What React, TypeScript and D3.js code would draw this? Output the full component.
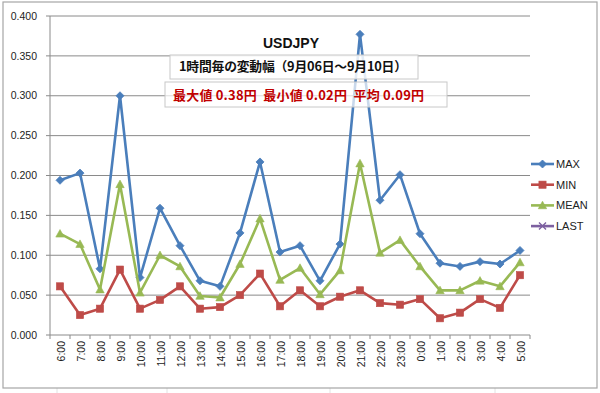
import React from "react";
import * as d3 from "d3";

const categories = ["6:00","7:00","8:00","9:00","10:00","11:00","12:00","13:00","14:00","15:00","16:00","17:00","18:00","19:00","20:00","21:00","22:00","23:00","0:00","1:00","2:00","3:00","4:00","5:00"];
const maxValues = [0.194,0.203,0.083,0.300,0.072,0.159,0.112,0.068,0.061,0.128,0.217,0.104,0.112,0.068,0.114,0.377,0.169,0.201,0.127,0.090,0.086,0.092,0.089,0.106];
const minValues = [0.061,0.025,0.033,0.082,0.033,0.044,0.061,0.033,0.035,0.050,0.077,0.036,0.056,0.036,0.048,0.056,0.040,0.038,0.045,0.021,0.028,0.045,0.034,0.075];
const meanValues = [0.127,0.114,0.057,0.189,0.053,0.100,0.086,0.049,0.047,0.089,0.146,0.069,0.084,0.051,0.081,0.215,0.103,0.119,0.086,0.056,0.056,0.068,0.061,0.091];
const yTicks = [0, 0.05, 0.1, 0.15, 0.2, 0.25, 0.3, 0.35, 0.4];
const legendNames = ["MAX", "MIN", "MEAN", "LAST"];
const colors = ["#4A7EBB", "#BE4B48", "#98B954", "#7D60A0"];

const W = 600, H = 393;
const plot = { left: 50, right: 530, top: 16, bottom: 335 };

function Marker({ kind, x, y, color }: { kind: number; x: number; y: number; color: string }) {
  if (kind === 0) {
    const s = 4;
    return <path d={`M${x},${y - s}L${x + s},${y}L${x},${y + s}L${x - s},${y}Z`} fill={color} stroke={color} strokeWidth={0.8} />;
  }
  if (kind === 1) {
    const s = 3.6;
    return <rect x={x - s} y={y - s} width={2 * s} height={2 * s} fill={color} stroke={color} strokeWidth={0.6} />;
  }
  if (kind === 2) {
    const s = 4.2;
    return <path d={`M${x},${y - s}L${x + s},${y + s * 0.8}L${x - s},${y + s * 0.8}Z`} fill={color} stroke={color} strokeWidth={0.6} />;
  }
  const s = 3.5;
  return <path d={`M${x - s},${y - s}L${x + s},${y + s}M${x + s},${y - s}L${x - s},${y + s}`} stroke={color} strokeWidth={1.4} fill="none" />;
}

export default function App() {
  const x = d3.scaleBand<string>().domain(categories).range([plot.left, plot.right]);
  const y = d3.scaleLinear().domain([0, 0.4]).range([plot.bottom, plot.top]);
  const cx = (c: string) => (x(c) as number) + x.bandwidth() / 2;
  const line = d3.line<number>().x((_, i) => cx(categories[i])).y((d) => y(d));
  const series = [maxValues, minValues, meanValues];
  const font = "'Liberation Sans', Arial, sans-serif";
  const jp = "'Noto Sans CJK JP', sans-serif";

  return (
    <svg width={W} height={H} style={{ position: "absolute", left: 0, top: 0, background: "#fff" }} fontFamily={font}>
      <rect x={0} y={0} width={W} height={H} fill="#fff" />
      {[57, 167, 330, 495].map((v) => (
        <line key={"sv" + v} x1={v} x2={v} y1={388} y2={H} stroke="#e2e2e2" />
      ))}
      <rect x={3} y={2} width={594} height={386} fill="#fff" stroke="#a6a6a6" strokeWidth={1.2} />
      {yTicks.map((t) => (
        <g key={t}>
          {t > 0 && <line x1={plot.left} x2={plot.right} y1={y(t)} y2={y(t)} stroke="#8a8a8a" strokeWidth={1} />}
          <line x1={plot.left - 4} x2={plot.left} y1={y(t)} y2={y(t)} stroke="#8a8a8a" />
          <text x={37} y={y(t)} dy="0.35em" textAnchor="end" fontSize={10.5} fill="#222">
            {d3.format(".3f")(t)}
          </text>
        </g>
      ))}
      <line x1={plot.left} x2={plot.left} y1={plot.top} y2={plot.bottom} stroke="#8a8a8a" />
      <line x1={plot.left} x2={plot.right} y1={plot.bottom} y2={plot.bottom} stroke="#8a8a8a" />
      {categories.map((c) => (
        <line key={"t" + c} x1={x(c) as number} x2={x(c) as number} y1={plot.bottom} y2={plot.bottom + 4} stroke="#8a8a8a" />
      ))}
      <line x1={plot.right} x2={plot.right} y1={plot.bottom} y2={plot.bottom + 4} stroke="#8a8a8a" />
      {categories.map((c) => (
        <text key={"l" + c} transform={`translate(${cx(c) + 1},341) rotate(-90)`} textAnchor="end" dy="0.35em" fontSize={10.5} fill="#222">
          {c}
        </text>
      ))}
      {series.map((s, k) => (
        <g key={"s" + k}>
          <path d={line(s) || ""} fill="none" stroke={colors[k]} strokeWidth={2.6} strokeLinejoin="round" />
          {s.map((v, i) => (
            <Marker key={i} kind={k} x={cx(categories[i])} y={y(v)} color={colors[k]} />
          ))}
        </g>
      ))}
      <text x={291} y={43} dy="0.35em" textAnchor="middle" fontSize={14} fontWeight="bold" fill="#111">USDJPY</text>
      <rect x={170} y={55} width={248} height={24} fill="#fff" fillOpacity={0.85} stroke="#c8c8c8" />
      <text x={179} y={67} dy="0.35em" fontFamily={jp} fontSize={12.8} fontWeight="bold" fill="#111" textLength={228}>
        1時間毎の変動幅（9月06日～9月10日）
      </text>
      <rect x={165} y={82} width={282} height={25} fill="#fff" fillOpacity={0.7} stroke="#c8c8c8" />
      <text x={173} y={95} dy="0.35em" fontFamily={jp} fontSize={13} fontWeight="bold" fill="#C00000" style={{ whiteSpace: "pre" }} textLength={251}>
        {"最大値 0.38円  最小値 0.02円  平均 0.09円"}
      </text>
      {legendNames.map((n, k) => {
        const ly = 164 + k * 20.7;
        return (
          <g key={n}>
            <line x1={531} x2={554} y1={ly} y2={ly} stroke={colors[k]} strokeWidth={2.6} />
            <Marker kind={k} x={542.5} y={ly} color={colors[k]} />
            <text x={556} y={ly} dy="0.35em" fontSize={11} fill="#222">{n}</text>
          </g>
        );
      })}
    </svg>
  );
}
